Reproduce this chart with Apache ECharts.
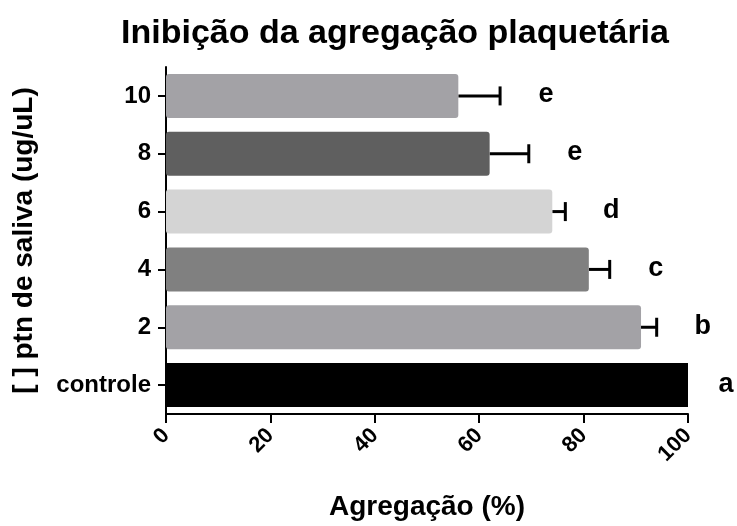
<!DOCTYPE html>
<html>
<head>
<meta charset="utf-8">
<script src="https://cdn.jsdelivr.net/npm/echarts@6/dist/echarts.min.js"></script>
<style>
  html, body { margin: 0; padding: 0; background: #fff; }
  #chart { width: 737px; height: 526px; }
</style>
</head>
<body>
<div id="chart"></div>
<script>
// Protein concentration groups (bottom to top on the category axis)
const categories = ['controle', '2', '4', '6', '8', '10'];
// Mean aggregation (%) and error (SEM) for each group
const means = [100, 91, 81, 74, 62, 56];
const errors = [0, 3, 4, 2.5, 7.5, 8];
// Statistical grouping letters
const letters = ['a', 'b', 'c', 'd', 'e', 'e'];

const barColors = ['#000000', '#a3a2a6', '#808080', '#d4d4d4', '#5f5f5f', '#a3a2a6'];
const FONT = "'Liberation Sans', Arial, sans-serif";

const chart = echarts.init(document.getElementById('chart'));

const errData = means.map((m, i) => [m, i, errors[i]]);

chart.setOption({
  animation: false,
  title: {
    text: 'Inibição da agregação plaquetária',
    left: 390,
    textAlign: 'center',
    top: 12,
    textStyle: { fontFamily: FONT, fontWeight: 'bold', fontSize: 34, color: '#000' }
  },
  grid: { left: 166, right: 49, top: 67, bottom: 111, containLabel: false },
  xAxis: {
    type: 'value',
    min: 0,
    max: 100,
    interval: 20,
    name: 'Agregação (%)',
    nameLocation: 'middle',
    nameGap: 79,
    nameTextStyle: { fontFamily: FONT, fontWeight: 'bold', fontSize: 28, color: '#000' },
    axisLine: { show: true, lineStyle: { color: '#000', width: 2 } },
    axisTick: { show: true, length: 9, lineStyle: { color: '#000', width: 2 } },
    splitLine: { show: false },
    axisLabel: {
      rotate: 45,
      margin: 18,
      fontFamily: FONT,
      fontWeight: 'bold',
      fontSize: 22,
      color: '#000'
    }
  },
  yAxis: {
    type: 'category',
    data: categories,
    name: '[ ] ptn de saliva (ug/uL)',
    nameLocation: 'middle',
    nameGap: 128,
    nameRotate: 90,
    nameTextStyle: { fontFamily: FONT, fontWeight: 'bold', fontSize: 28, color: '#000' },
    axisLine: { show: true, lineStyle: { color: '#000', width: 2 } },
    axisTick: { show: true, alignWithLabel: true, length: 8, lineStyle: { color: '#000', width: 2 } },
    axisLabel: { margin: 15, fontFamily: FONT, fontWeight: 'bold', fontSize: 24, color: '#000' }
  },
  series: [
    {
      type: 'bar',
      barCategoryGap: '24%',
      data: means.map((v, i) => ({
        value: v,
        itemStyle: { color: barColors[i], borderRadius: i === 0 ? 0 : 3 }
      }))
    },
    {
      // Error whiskers (positive side) plus the grouping letter after each bar
      type: 'custom',
      clip: false,
      data: errData,
      renderItem: function (params, api) {
        const mean = api.value(0);
        const idx = api.value(1);
        const err = api.value(2);
        const start = api.coord([mean, idx]);
        const end = api.coord([mean + err, idx]);
        const children = [];
        if (err > 0) {
          children.push({
            type: 'line',
            shape: { x1: start[0], y1: start[1], x2: end[0], y2: end[1] },
            style: { stroke: '#000', lineWidth: 3 }
          });
          children.push({
            type: 'line',
            shape: { x1: end[0], y1: end[1] - 9.5, x2: end[0], y2: end[1] + 9.5 },
            style: { stroke: '#000', lineWidth: 3 }
          });
        }
        children.push({
          type: 'text',
          style: {
            text: letters[params.dataIndex],
            x: end[0] + (err > 0 ? 46 : 38),
            y: end[1] - 1,
            align: 'center',
            verticalAlign: 'middle',
            font: "bold 27px " + FONT,
            fill: '#000'
          }
        });
        return { type: 'group', children: children };
      }
    }
  ]
});
</script>
</body>
</html>
